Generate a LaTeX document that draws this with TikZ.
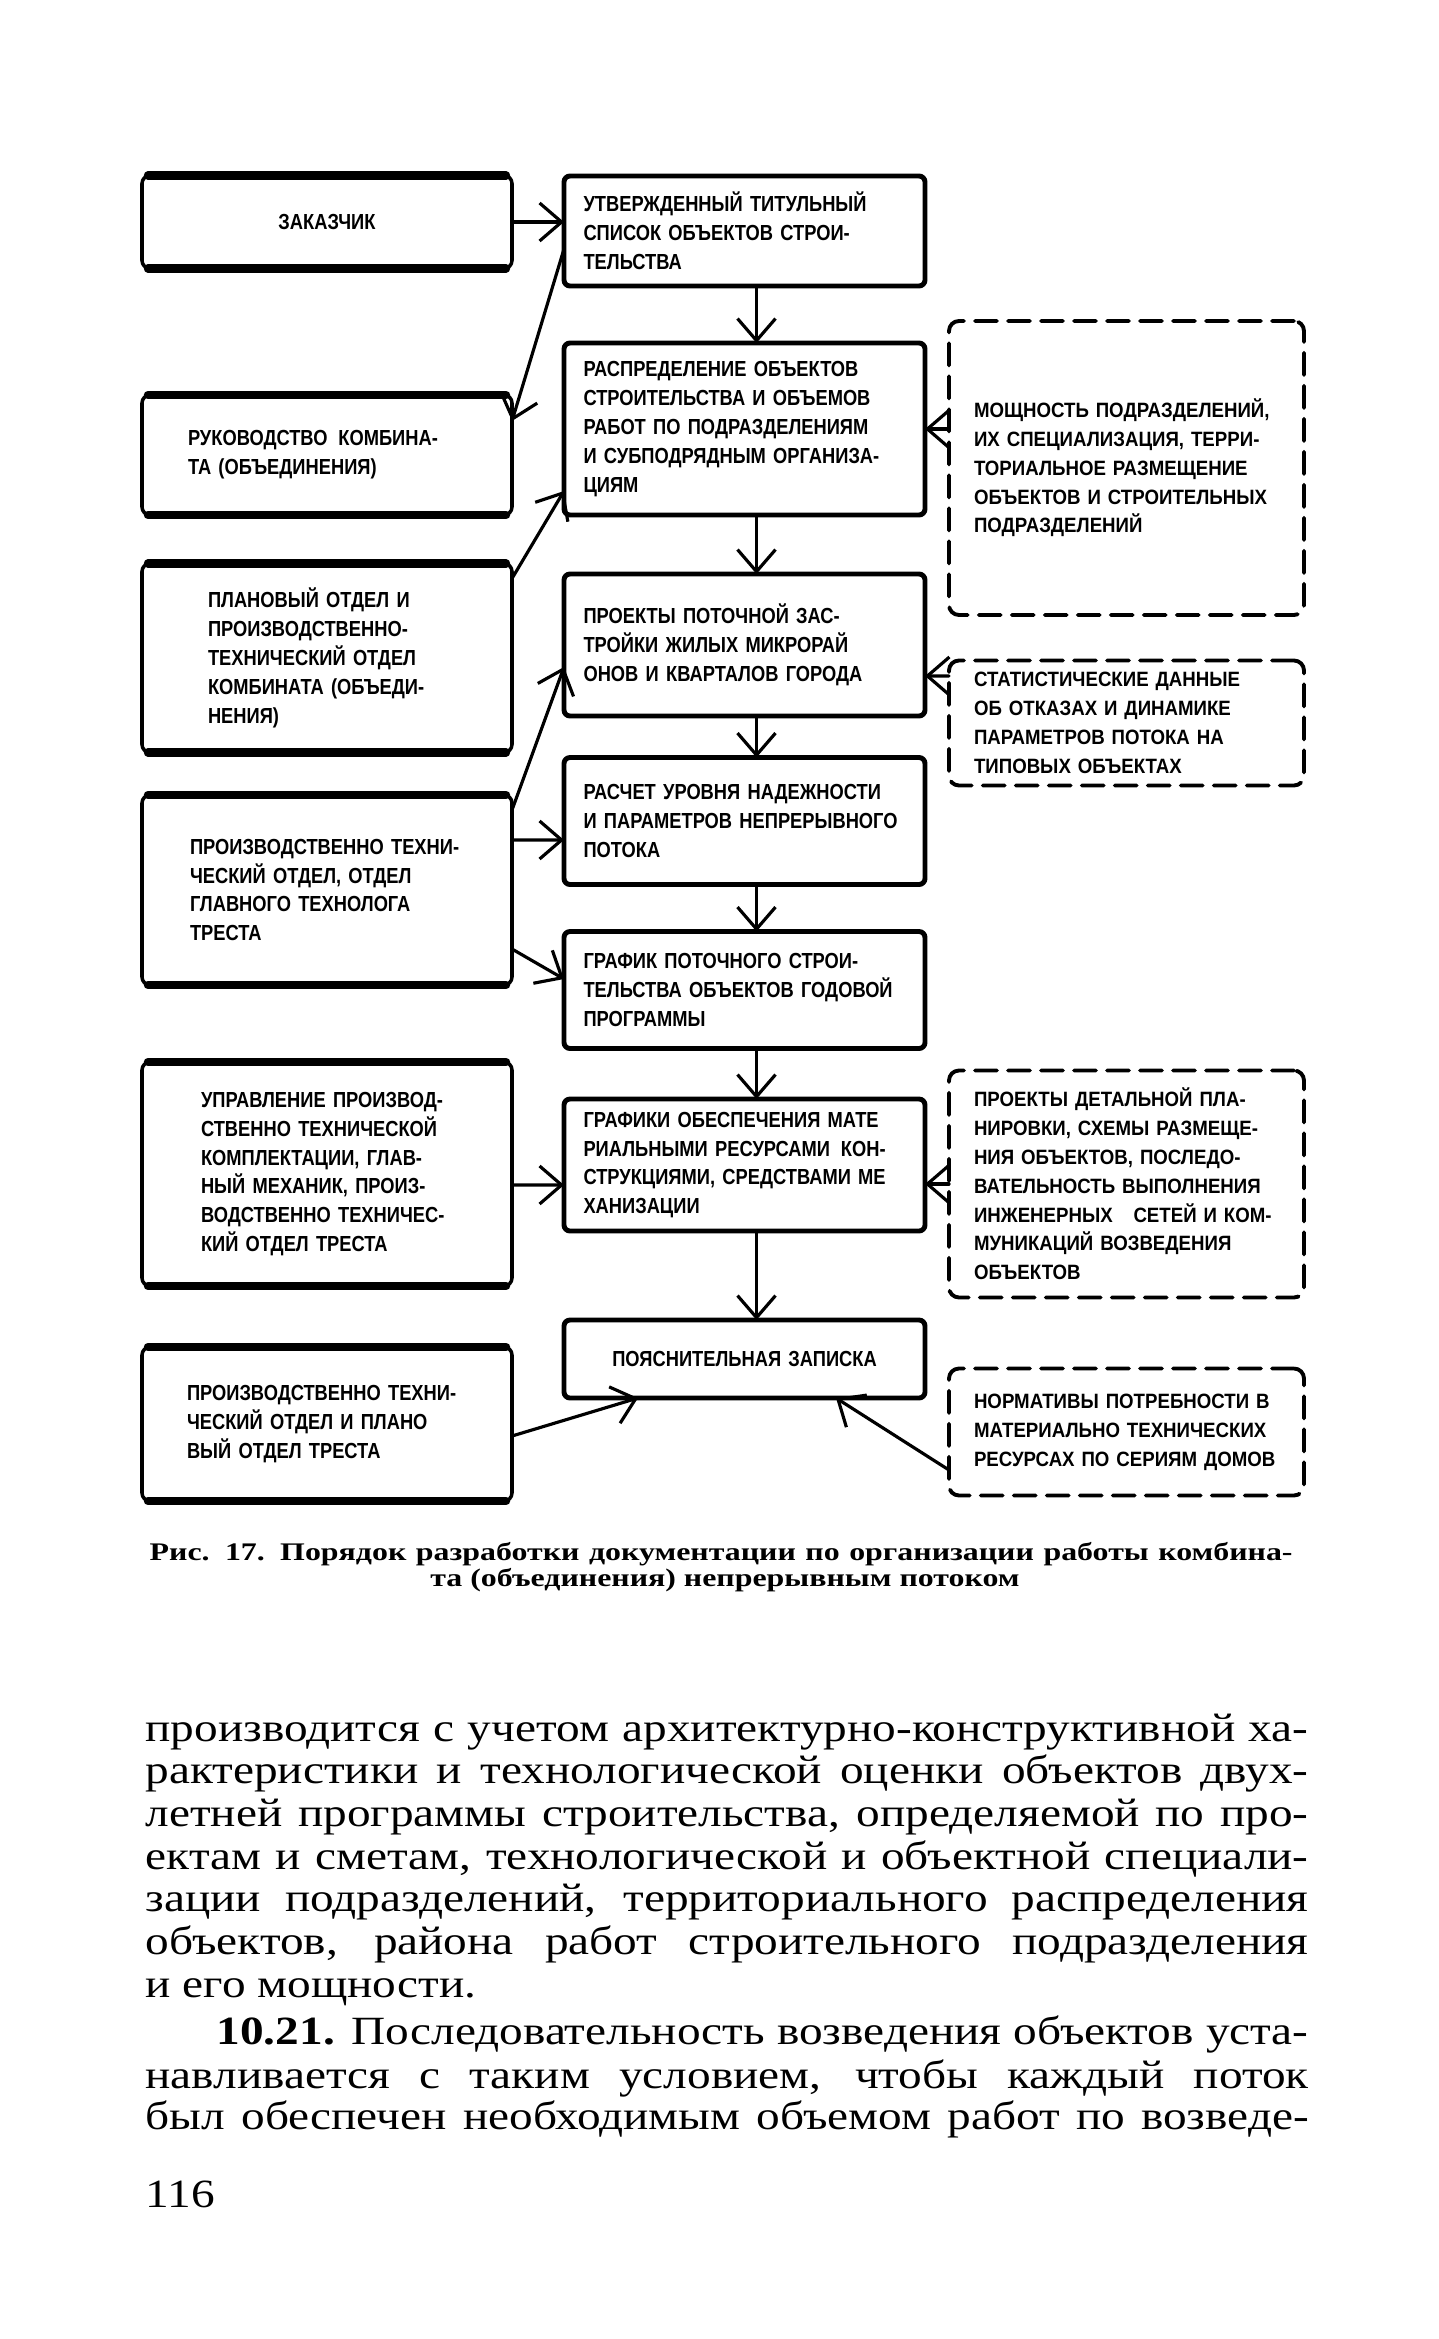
\documentclass[tikz,border=0pt]{standalone}
\usepackage{fontspec}
\setmainfont{Liberation Serif}
\newfontfamily\boxfont[FakeStretch=0.84]{Liberation Sans}
\newfontfamily\dboxfont[FakeStretch=0.9]{Liberation Sans}
\newfontfamily\capfont[FakeStretch=1.26]{Liberation Serif}
\newfontfamily\txtfont[FakeStretch=1.18]{Liberation Serif}
\usetikzlibrary{arrows.meta}
\newlength{\txtw}
\setlength{\txtw}{116.3mm}
\newcommand{\jline}[2][\txtw]{\makebox[#1][s]{#2}}

\begin{document}
\begin{tikzpicture}[x=0.1mm, y=-0.1mm, line join=round, line cap=round,
  >={Straight Barb[length=2.2mm,width=3.8mm]},
  bfont/.style={font=\boxfont\bfseries\fontsize{6.2}{8.2}\selectfont},
  lbox/.style={draw, line width=1pt, rounded corners=0.8mm, outer sep=0pt, minimum width=37mm,
    inner xsep=0.5mm, inner ysep=0.3mm, text width=#1, align=left, bfont},
  lbox/.default=25mm,
  cbox/.style={draw, line width=1.4pt, rounded corners=0.6mm, outer sep=0pt, minimum width=36.1mm,
    inner xsep=0.5mm, inner ysep=0.3mm, text width=32.2mm, align=left, bfont},
  dbox/.style={draw, line width=1.1pt, dash pattern=on 2.2mm off 1.1mm, rounded corners=1mm,
    outer sep=0pt, minimum width=35.5mm, inner xsep=0.5mm, inner ysep=0.3mm, text width=30.5mm,
    align=left, font=\dboxfont\bfseries\fontsize{5.9}{8.2}\selectfont},
  conn/.style={->, line width=0.9pt},
  captxt/.style={font=\capfont\bfseries\fontsize{7.2}{7.4}\selectfont, inner sep=0pt},
  txt/.style={font=\txtfont\fontsize{11.4}{12.1}\selectfont, inner sep=0pt, anchor=base west}]
\useasboundingbox (0,0) rectangle (1438,2339);
%Khung bên trái
\node[lbox, text width=33mm, align=center, minimum height=9.3mm] (zak) at (327,222) {ЗАКАЗЧИК};
\node[lbox=27.8mm, minimum height=12mm] (ruk) at (327,455) {РУКОВОДСТВО\enspace КОМБИНА-\\ТА (ОБЪЕДИНЕНИЯ)};
\node[lbox=23.8mm, minimum height=18.9mm] (plan) at (327,658) {ПЛАНОВЫЙ ОТДЕЛ И\\ПРОИЗВОДСТВЕННО-\\ТЕХНИЧЕСКИЙ ОТДЕЛ\\КОМБИНАТА (ОБЪЕДИ-\\НЕНИЯ)};
\node[lbox=27.4mm, minimum height=19mm] (ptotd) at (327,890) {ПРОИЗВОДСТВЕННО ТЕХНИ-\\ЧЕСКИЙ ОТДЕЛ, ОТДЕЛ\\ГЛАВНОГО ТЕХНОЛОГА\\ТРЕСТА};
\node[lbox=25.2mm, minimum height=22.4mm] (upr) at (327,1174) {УПРАВЛЕНИЕ ПРОИЗВОД-\\СТВЕННО ТЕХНИЧЕСКОЙ\\КОМПЛЕКТАЦИИ, ГЛАВ-\\НЫЙ МЕХАНИК, ПРОИЗ-\\ВОДСТВЕННО ТЕХНИЧЕС-\\КИЙ ОТДЕЛ ТРЕСТА};
\node[lbox=28mm, minimum height=15.4mm] (ptpl) at (327,1424) {ПРОИЗВОДСТВЕННО ТЕХНИ-\\ЧЕСКИЙ ОТДЕЛ И ПЛАНО\\ВЫЙ ОТДЕЛ ТРЕСТА};
\foreach \n in {zak,ruk,plan,ptotd,upr,ptpl}
\draw[line width=2.4pt] ([xshift=0.6mm]\n.north west)--([xshift=-0.6mm]\n.north east)
([xshift=0.6mm]\n.south west)--([xshift=-0.6mm]\n.south east);
%Khung giữa
\node[cbox, minimum height=11mm] (utv) at (744.5,231) {УТВЕРЖДЕННЫЙ ТИТУЛЬНЫЙ\\СПИСОК ОБЪЕКТОВ СТРОИ-\\ТЕЛЬСТВА};
\node[cbox, minimum height=17.2mm] (raspr) at (744.5,429) {РАСПРЕДЕЛЕНИЕ ОБЪЕКТОВ\\СТРОИТЕЛЬСТВА И ОБЪЕМОВ\\РАБОТ ПО ПОДРАЗДЕЛЕНИЯМ\\И СУБПОДРЯДНЫМ ОРГАНИЗА-\\ЦИЯМ};
\node[cbox, minimum height=14.2mm] (proekt) at (744.5,645) {ПРОЕКТЫ ПОТОЧНОЙ ЗАС-\\ТРОЙКИ ЖИЛЫХ МИКРОРАЙ\\ОНОВ И КВАРТАЛОВ ГОРОДА};
\node[cbox, minimum height=12.7mm] (raschet) at (744.5,821) {РАСЧЕТ УРОВНЯ НАДЕЖНОСТИ\\И ПАРАМЕТРОВ НЕПРЕРЫВНОГО\\ПОТОКА};
\node[cbox, minimum height=11.7mm] (grafik) at (744.5,990) {ГРАФИК ПОТОЧНОГО СТРОИ-\\ТЕЛЬСТВА ОБЪЕКТОВ ГОДОВОЙ\\ПРОГРАММЫ};
\node[cbox, minimum height=13.2mm] (obesp) at (744.5,1165) {ГРАФИКИ ОБЕСПЕЧЕНИЯ МАТЕ\\РИАЛЬНЫМИ РЕСУРСАМИ\enspace КОН-\\СТРУКЦИЯМИ, СРЕДСТВАМИ МЕ\\ХАНИЗАЦИИ};
\node[cbox, align=center, minimum height=7.8mm] (poyasn) at (744.5,1359) {ПОЯСНИТЕЛЬНАЯ ЗАПИСКА};
%Khung nét đứt
\node[dbox, minimum height=29.4mm] (moshch) at (1126.5,468) {МОЩНОСТЬ ПОДРАЗДЕЛЕНИЙ,\\ИХ СПЕЦИАЛИЗАЦИЯ, ТЕРРИ-\\ТОРИАЛЬНОЕ РАЗМЕЩЕНИЕ\\ОБЪЕКТОВ И СТРОИТЕЛЬНЫХ\\ПОДРАЗДЕЛЕНИЙ};
\node[dbox, minimum height=12.5mm] (stat) at (1126.5,723) {СТАТИСТИЧЕСКИЕ ДАННЫЕ\\ОБ ОТКАЗАХ И ДИНАМИКЕ\\ПАРАМЕТРОВ ПОТОКА НА\\ТИПОВЫХ ОБЪЕКТАХ};
\node[dbox, minimum height=22.7mm] (detal) at (1126.5,1184) {ПРОЕКТЫ ДЕТАЛЬНОЙ ПЛА-\\НИРОВКИ, СХЕМЫ РАЗМЕЩЕ-\\НИЯ ОБЪЕКТОВ, ПОСЛЕДО-\\ВАТЕЛЬНОСТЬ ВЫПОЛНЕНИЯ\\ИНЖЕНЕРНЫХ\quad СЕТЕЙ И КОМ-\\МУНИКАЦИЙ ВОЗВЕДЕНИЯ\\ОБЪЕКТОВ};
\node[dbox, minimum height=12.7mm] (norm) at (1126.5,1432) {НОРМАТИВЫ ПОТРЕБНОСТИ В\\МАТЕРИАЛЬНО ТЕХНИЧЕСКИХ\\РЕСУРСАХ ПО СЕРИЯМ ДОМОВ};
%Mũi tên
\draw[conn] (zak.east)--(zak.east -| utv.west);
\draw[conn] ([yshift=-1.8mm]utv.west)--([yshift=3.4mm]ruk.east);
\draw[conn] ([yshift=-1.5mm]plan.north east)--([yshift=-6.2mm]raspr.west);
\draw[conn] ([yshift=-1.5mm]ptotd.north east)--([yshift=-2.2mm]proekt.west);
\draw[conn] ([yshift=5mm]ptotd.east)--([yshift=-1.9mm]raschet.west);
\draw[conn] ([yshift=-5.9mm]ptotd.east)--([yshift=1.1mm]grafik.west);
\draw[conn] ([yshift=-1.1mm]upr.east)--([yshift=-2mm]obesp.west);
\draw[conn] ([yshift=-1.2mm]ptpl.east)--([xshift=7.4mm]poyasn.south west);
\draw[conn] ([yshift=-3.8mm]norm.west)--([xshift=-8.9mm]poyasn.south east);
\draw[conn] (moshch.west |- raspr.east)--(raspr.east);
\draw[conn] ([yshift=4.7mm]stat.west)--([yshift=-3.1mm]proekt.east);
\draw[conn] (detal.west)--(detal.west -| obesp.east);
\foreach \a/\b in {utv/raspr,raspr/proekt,proekt/raschet,raschet/grafik,grafik/obesp,obesp/poyasn}
\draw[conn] ([xshift=1.2mm]\a.south)--([xshift=1.2mm]\b.north);
%Chú thích và chữ
\node[captxt, anchor=base west] (cap1) at (149,1560) {\jline[114.3mm]{Рис. 17. Порядок разработки документации по организации работы комбина-}};
\node[captxt, anchor=base] (cap2) at (725,1586) {та (объединения) непрерывным потоком};
\foreach \stroka [count=\i] in {{производится с учетом архитектурно-конструктивной ха-},
{рактеристики и технологической оценки объектов двух-},
{летней программы строительства, определяемой по про-},
{ектам и сметам, технологической и объектной специали-},
{зации подразделений, территориального распределения},
{объектов, района работ строительного подразделения}}
\node[txt] (p\i) at (145,{1741+42.7*(\i-1)}) {\jline{\stroka}};
\node[txt] (p7) at (145,1997) {и его мощности.};
\node[txt] (q1) at (216,2044) {\jline[109.2mm]{\textbf{10.21.} Последовательность возведения объектов уста-}};
\node[txt] (q2) at (145,2088) {\jline{навливается с таким условием, чтобы каждый поток}};
\node[txt] (q3) at (145,2129) {\jline{был обеспечен необходимым объемом работ по возведе-}};
\node[txt] (pg) at (145,2207) {116};
\end{tikzpicture}
\end{document}
